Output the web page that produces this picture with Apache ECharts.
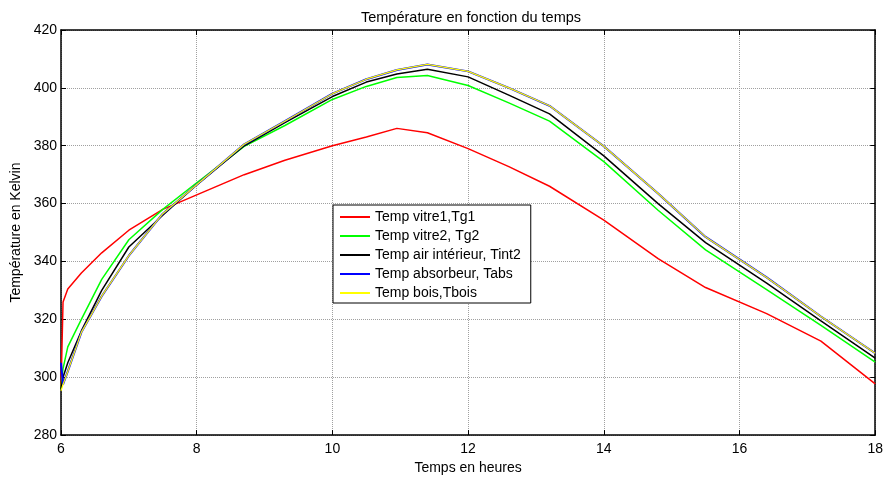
<!DOCTYPE html>
<html>
<head>
<meta charset="utf-8">
<title>Température en fonction du temps</title>
<script src="https://cdn.jsdelivr.net/npm/echarts@6/dist/echarts.min.js"></script>
<style>
  html, body { margin: 0; padding: 0; background: #fff; }
  #chart { width: 886px; height: 480px; }
</style>
</head>
<body>
<div id="chart"></div>
<script>
/*********** données ***********/
var temps = [6, 6.03, 6.1, 6.3, 6.6, 7, 7.5, 8, 8.7, 9.3, 10, 10.5, 10.95, 11.4, 12, 12.6, 13.2, 14, 14.8, 15.5, 16.4, 17.2, 18];
var tg1   = [296, 326, 330.5, 336, 343, 350.8, 358, 363, 370, 375, 380, 383, 386, 384.5, 379, 372.8, 366, 354.3, 341, 331, 322, 312.5, 297.7];
var tg2   = [296, 303, 310.5, 320, 333.8, 347.5, 358, 367.2, 379.8, 387, 396, 400.5, 403.6, 404.3, 400.8, 394.8, 388.5, 374.5, 357.7, 344, 330.3, 317.9, 305.2];
var tint2 = [296, 300, 305, 316, 330, 345, 356, 366.5, 380, 388, 397, 402, 404.8, 406.4, 403.8, 397.5, 391, 376.5, 360, 346.5, 332.5, 319.5, 306.6];
var tabs  = [305, 297.5, 302, 315.5, 328, 342, 356.5, 366.5, 380.5, 388.5, 398, 403, 406.2, 408.1, 405.7, 400, 393.8, 379.8, 363.5, 348.5, 334.5, 321, 308.3];
var tbois = [295.3, 297.5, 302, 315.5, 328, 342, 356.5, 366.5, 380.5, 388.5, 398, 403, 406.2, 408.1, 405.7, 400, 393.8, 379.8, 363.5, 348.5, 334.5, 321, 308.3];

var noms = ['Temp vitre1,Tg1', 'Temp vitre2, Tg2', 'Temp air intérieur, Tint2', 'Temp absorbeur, Tabs', 'Temp bois,Tbois'];
var couleurs = ['#ff0000', '#00ff00', '#000000', '#0000ff', '#ffff00'];
var largeurs = [1.5, 1.5, 1.5, 2, 1.2];
var xTicks = [6, 8, 10, 12, 14, 16, 18];
var yTicks = [280, 300, 320, 340, 360, 380, 400, 420];

(function () {
    var chart = echarts.init(document.getElementById('chart'));
    var police = 'Liberation Sans, Arial, sans-serif';

    function paires(vals) {
        var out = [];
        for (var i = 0; i < temps.length; i++) {
            out.push([temps[i], vals[i]]);
        }
        return out;
    }

    var valeurs = [tg1, tg2, tint2, tabs, tbois];
    var series = [];
    for (var k = 0; k < valeurs.length; k++) {
        series.push({
            name: noms[k],
            type: 'line',
            data: paires(valeurs[k]),
            symbol: 'none',
            color: couleurs[k],
            lineStyle: { color: couleurs[k], width: largeurs[k] },
            animation: false,
            z: 3 + k
        });
    }

    var axeNoir = { show: true, onZero: false, lineStyle: { color: '#000', width: 1.5 } };
    var tickIn = { show: true, inside: true, length: 5, lineStyle: { color: '#000' } };
    var grille = { show: true, lineStyle: { color: '#a0a0a0', type: 'dotted', width: 1 } };

    var option = {
        backgroundColor: '#fff',
        title: {
            text: 'Température en fonction du temps',
            left: 466, top: 5, textAlign: 'center',
            textStyle: { fontFamily: police, fontSize: 14.5, fontWeight: 'normal', color: '#000' }
        },
        grid: { left: 61, right: 9, top: 30, bottom: 39, containLabel: false },
        legend: {
            data: noms,
            orient: 'vertical',
            left: 333, top: 205,
            padding: [5, 10, 3, 7],
            itemGap: 5,
            itemWidth: 30, itemHeight: 2,
            icon: 'rect',
            backgroundColor: '#fff',
            borderColor: '#000', borderWidth: 1, borderRadius: 0,
            textStyle: { fontFamily: police, fontSize: 14, color: '#000', lineHeight: 14 }
        },
        xAxis: [{
            type: 'value', min: 6, max: 18, interval: 2,
            name: 'Temps en heures', nameLocation: 'middle', nameGap: 24,
            nameTextStyle: { fontFamily: police, fontSize: 14, color: '#000' },
            axisLine: axeNoir, axisTick: tickIn, splitLine: grille,
            axisLabel: { fontFamily: police, fontSize: 14, color: '#000', margin: 7 }
        }, {
            type: 'value', min: 6, max: 18, interval: 2, position: 'top',
            axisLine: axeNoir, axisTick: tickIn, splitLine: { show: false },
            axisLabel: { show: false }
        }],
        yAxis: [{
            type: 'value', min: 280, max: 420, interval: 20,
            name: 'Température en Kelvin', nameLocation: 'middle', nameGap: 31,
            nameTextStyle: { fontFamily: police, fontSize: 14, color: '#000' },
            axisLine: axeNoir, axisTick: tickIn, splitLine: grille,
            axisLabel: { fontFamily: police, fontSize: 14, color: '#000', margin: 4 }
        }, {
            type: 'value', min: 280, max: 420, interval: 20, position: 'right',
            axisLine: axeNoir, axisTick: tickIn, splitLine: { show: false },
            axisLabel: { show: false }
        }],
        series: series
    };
    chart.setOption(option, true);
})();
</script>
</body>
</html>
